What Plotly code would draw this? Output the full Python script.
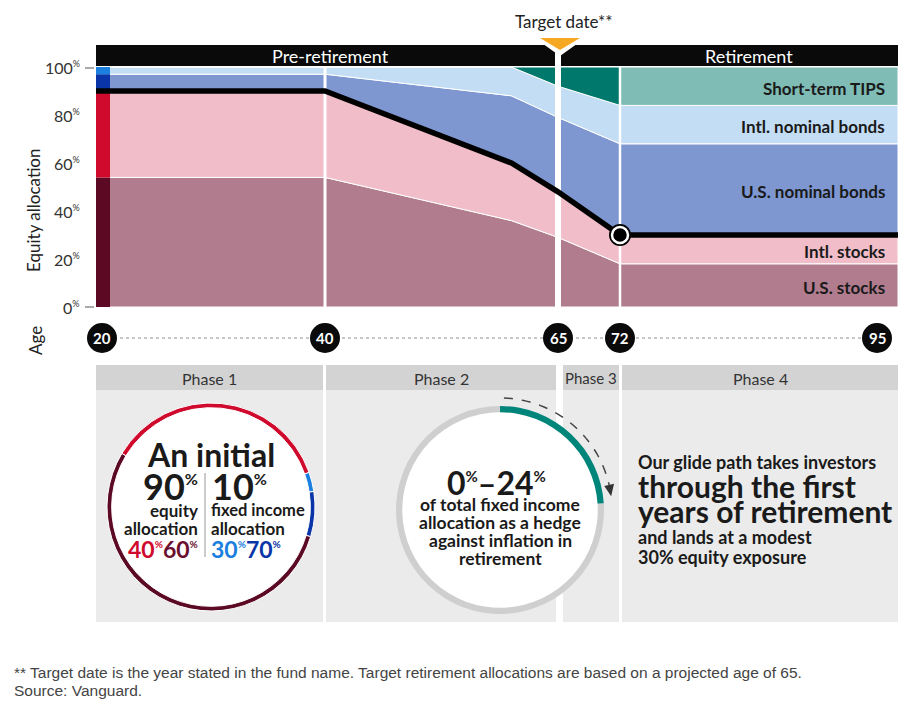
import numpy as np
import plotly.graph_objects as go

# ---------------- data ----------------
AGES = [20, 40, 60, 65, 72, 95]
US_STOCKS = [54, 54, 36, 29, 18, 18]
INTL_STOCKS = [36, 36, 24, 19, 12, 12]
US_BONDS = [7, 7, 28, 31, 38, 38]
INTL_BONDS = [3, 3, 12, 13, 16, 16]
TIPS = [0, 0, 0, 8, 16, 16]
LAYER_NAMES = ["U.S. stocks", "Intl. stocks", "U.S. nominal bonds",
               "Intl. nominal bonds", "Short-term TIPS"]
AGE_TICKS = [20, 40, 65, 72, 95]
Y_TICKS = [0, 20, 40, 60, 80, 100]
PHASES = ["Phase 1", "Phase 2", "Phase 3", "Phase 4"]
HEDGE_SHARE = [24, 76]          # max TIPS share of fixed income vs. rest
TARGET_AGE = 65
LANDING_AGE = 72

# ---------------- layout constants ----------------
W, H = 910, 705
FONT = "Lato, 'Noto Sans', sans-serif"
FOOT_FONT = "'Liberation Sans', Arial, sans-serif"
INK = "#1a1a1a"
AGE_PX = [102, 325, 558, 620, 877]      # horizontal spot of each age tick
CHART_L, CHART_R, STRIP_R = 96, 898, 110
CHART_TOP, CHART_BOT = 67, 307
AREA_COLORS = ["#b07c8e", "#f1bdc9", "#7e97d1", "#c3ddf5", "#00786b"]
TIPS_LIGHT = "#7fbcb5"
STRIP_COLORS = ["#5c0a24", "#cf0a2c", "#0a35a8", "#1b7fe0"]
TEAL = "#00857b"


def age_x(a):
    return float(np.interp(a, AGE_TICKS, AGE_PX))


def X(px):
    return px / W


def Y(py):
    return 1 - py / H


def pct(n, size):
    return f"{n}<sup><span style='font-size:{size}px'>%</span></sup>"


shapes, annotations = [], []


def rect(x0, y0, x1, y1, color, layer="below"):
    shapes.append(dict(type="rect", xref="paper", yref="paper",
                       x0=X(x0), x1=X(x1), y0=Y(y1), y1=Y(y0),
                       fillcolor=color, line_width=0, layer=layer))


def circle(cx, cy, r, color, layer="below", line=None):
    shapes.append(dict(type="circle", xref="paper", yref="paper",
                       x0=X(cx - r), x1=X(cx + r), y0=Y(cy + r), y1=Y(cy - r),
                       fillcolor=color, line=line or dict(width=0), layer=layer))


def poly(points, fill=None, line=None, close=True, layer="above"):
    d = "M " + " L ".join(f"{X(x):.5f},{Y(y):.5f}" for x, y in points)
    if close:
        d += " Z"
    s = dict(type="path", xref="paper", yref="paper", path=d, layer=layer,
             line=line or dict(width=0))
    if fill:
        s["fillcolor"] = fill
    shapes.append(s)


def text(x, y, s, size, color=INK, weight=400, xanchor="center",
         family=FONT, angle=0, yref="paper", yshift=0):
    annotations.append(dict(xref="paper", yref=yref, x=X(x),
                            y=Y(y) if yref == "paper" else y,
                            text=s, showarrow=False, xanchor=xanchor,
                            yanchor="middle", textangle=angle, yshift=yshift,
                            font=dict(family=family, size=size, color=color,
                                      weight=weight)))


fig = go.Figure()

layers = [US_STOCKS, INTL_STOCKS, US_BONDS, INTL_BONDS, TIPS]
cum = np.cumsum(np.array(layers, dtype=float), axis=0)
xs = [age_x(a) for a in AGES]
xa = list(xs)
xa[0], xa[-1] = STRIP_R, CHART_R
i72 = AGES.index(LANDING_AGE)

# initial-allocation strip (saturated colours) at the left edge
base = 0.0
for i in range(4):
    v = layers[i][0]
    fig.add_trace(go.Bar(x=[(CHART_L + STRIP_R) / 2], y=[v], base=[base],
                         width=[STRIP_R - CHART_L],
                         marker=dict(color=STRIP_COLORS[i], line_width=0),
                         hoverinfo="skip"))
    base += v

# stacked areas
lower = np.zeros(len(AGES))
for i, name in enumerate(LAYER_NAMES):
    upper = cum[i]
    fig.add_trace(go.Scatter(x=xa + xa[::-1], y=list(upper) + list(lower[::-1]),
                             fill="toself", fillcolor=AREA_COLORS[i], mode="lines",
                             line=dict(color="white", width=1), name=name,
                             hoverinfo="skip"))
    lower = upper
# retirement part of TIPS in lighter teal
xr = xa[i72:]
fig.add_trace(go.Scatter(x=xr + xr[::-1],
                         y=list(cum[4][i72:]) + list(cum[3][i72:][::-1]),
                         fill="toself", fillcolor=TIPS_LIGHT, mode="lines",
                         line=dict(color="white", width=1), hoverinfo="skip"))

# white separators at phase boundaries
for a, w in [(40, 3), (TARGET_AGE, 6), (LANDING_AGE, 2.5)]:
    fig.add_trace(go.Scatter(x=[age_x(a), age_x(a)], y=[0, 100], mode="lines",
                             line=dict(color="white", width=w), hoverinfo="skip"))

# equity glide path
eq = cum[1]
fig.add_trace(go.Scatter(x=[CHART_L] + xs[1:-1] + [CHART_R], y=list(eq), mode="lines",
                         line=dict(color="black", width=5.5), hoverinfo="skip"))
fig.add_trace(go.Scatter(x=[age_x(LANDING_AGE)], y=[eq[i72]], mode="markers",
                         marker=dict(size=22, color="black"), hoverinfo="skip"))
fig.add_trace(go.Scatter(x=[age_x(LANDING_AGE)], y=[eq[i72]], mode="markers",
                         marker=dict(size=16, color="black",
                                     line=dict(color="white", width=2.5)),
                         hoverinfo="skip"))

# right-hand layer labels
for i, name in enumerate(LAYER_NAMES):
    lo = cum[i - 1][-1] if i else 0
    text(887, 0, name, 17, weight=700, xanchor="right", yref="y", yshift=-2)
    annotations[-1]["y"] = (lo + cum[i][-1]) / 2

# header bar and target-date marker
rect(CHART_L, 45, CHART_R, 66, "#0a0a0a", layer="above")
text(330, 56, "Pre-retirement", 18, color="white")
text(749, 56, "Retirement", 18, color="white")
rect(age_x(TARGET_AGE) - 3, 44, age_x(TARGET_AGE) + 3, 68, "white", layer="above")
poly([(532, 36), (588, 36), (560, 56)], fill="white")
poly([(540, 38), (580, 38), (560, 50)], fill="#f7a823")
text(564, 21, "Target date**", 17, color="#222")

# y axis labels
for v in Y_TICKS:
    text(82, 0, pct(v, 9), 16, color="#333", xanchor="right", yref="y")
    annotations[-1]["y"] = v
for py in (CHART_TOP + 1, CHART_BOT):
    shapes.append(dict(type="line", xref="paper", yref="paper", x0=X(85), x1=X(94),
                       y0=Y(py), y1=Y(py), line=dict(color="#555", width=1)))
text(33, 210, "Equity allocation", 17, color="#222", angle=-90)
text(36, 341, "Age", 17, color="#222", angle=-90)

# age row
shapes.append(dict(type="line", xref="paper", yref="paper",
                   x0=X(age_x(AGE_TICKS[0])), x1=X(age_x(AGE_TICKS[-1])),
                   y0=Y(338), y1=Y(338), layer="below",
                   line=dict(color="#b5b5b5", width=1.5, dash="dot")))
for a in AGE_TICKS:
    circle(age_x(a), 338, 15, "#0a0a0a")
    text(age_x(a), 338, str(a), 15, color="white", weight=700)

# phase panels
PANELS = [(96, 323), (326, 556), (563, 619), (622, 898)]
for (x0, x1), name in zip(PANELS, PHASES):
    rect(x0, 365, x1, 390, "#d3d3d3")
    rect(x0, 390, x1, 622, "#ebebeb")
    text((x0 + x1) / 2, 378, name, 16 if name != "Phase 3" else 15, color="#333")

# Phase 1 ring (initial allocation)
c1, r1 = (211, 507), 104
circle(c1[0], c1[1], r1 - 3, "white")
fig.add_trace(go.Pie(values=[INTL_STOCKS[0], INTL_BONDS[0], US_BONDS[0], US_STOCKS[0]],
                     marker=dict(colors=[STRIP_COLORS[1], STRIP_COLORS[3],
                                         STRIP_COLORS[2], STRIP_COLORS[0]],
                                 line=dict(color="white", width=1)),
                     hole=0.955, sort=False, direction="clockwise", rotation=-59,
                     textinfo="none", hoverinfo="skip",
                     domain=dict(x=[X(c1[0] - r1), X(c1[0] + r1)],
                                 y=[Y(c1[1] + r1), Y(c1[1] - r1)])))
text(211, 454, "An initial", 32, weight=700)
text(200, 486, pct(INTL_STOCKS[0] + US_STOCKS[0], 16), 36, weight=700, xanchor="right")
text(210, 486, pct(US_BONDS[0] + INTL_BONDS[0], 16), 36, weight=700, xanchor="left")
text(200, 510, "equity", 17, weight=700, xanchor="right")
text(200, 528, "allocation", 17, weight=700, xanchor="right")
text(209, 510, "fixed income", 16.5, weight=700, xanchor="left")
text(209, 528, "allocation", 17, weight=700, xanchor="left")
text(200, 549, f"<span style='color:{STRIP_COLORS[1]}'>{pct(40, 10)}</span>"
               f"<span style='color:#6b0f2e'>{pct(60, 10)}</span>", 23, weight=700,
     xanchor="right")
text(209, 549, f"<span style='color:{STRIP_COLORS[3]}'>{pct(30, 10)}</span>"
               f"<span style='color:{STRIP_COLORS[2]}'>{pct(70, 10)}</span>", 23, weight=700,
     xanchor="left")
shapes.append(dict(type="line", xref="paper", yref="paper", x0=X(205), x1=X(205),
                   y0=Y(473), y1=Y(557), line=dict(color="#999", width=1), layer="above"))

# Phase 2 ring (inflation hedge)
c2, r2 = (500, 510), 104
circle(c2[0], c2[1], r2 - 5, "white")
fig.add_trace(go.Pie(values=HEDGE_SHARE,
                     marker=dict(colors=[TEAL, "#cfcfcf"], line=dict(width=0)),
                     hole=0.94, sort=False, direction="clockwise", rotation=0,
                     textinfo="none", hoverinfo="skip",
                     domain=dict(x=[X(c2[0] - r2), X(c2[0] + r2)],
                                 y=[Y(c2[1] + r2), Y(c2[1] - r2)])))
arc = [(c2[0] + 112 * np.sin(np.radians(t)), c2[1] - 112 * np.cos(np.radians(t)))
       for t in np.linspace(2, 77, 40)]
poly(arc, close=False, line=dict(color="#444", width=1.5, dash="dash"))
tip = (c2[0] + 112 * np.sin(np.radians(83)), c2[1] - 112 * np.cos(np.radians(83)))
b1 = (c2[0] + 107 * np.sin(np.radians(77)), c2[1] - 107 * np.cos(np.radians(77)))
b2 = (c2[0] + 117 * np.sin(np.radians(77)), c2[1] - 117 * np.cos(np.radians(77)))
poly([tip, b1, b2], fill="#333")
text(497, 482, f"{pct(0, 15)}–{pct(24, 15)}", 32, weight=700)
for k, line in enumerate(["of total fixed income", "allocation as a hedge",
                          "against inflation in", "retirement"]):
    text(500, 504 + 18 * k, line, 17.5, weight=700)

# Phase 4 text
text(636, 462, "Our glide path takes investors", 18, weight=700, xanchor="left")
text(636, 486, "through the first", 30, weight=700, xanchor="left")
text(636, 511, "years of retirement", 30, weight=700, xanchor="left")
text(636, 537, "and lands at a modest", 18, weight=700, xanchor="left")
text(636, 557, "30% equity exposure", 18, weight=700, xanchor="left")

# footer
text(12, 672, "** Target date is the year stated in the fund name. Target retirement "
              "allocations are based on a projected age of 65.", 15.5, color="#444",
     xanchor="left", family=FOOT_FONT)
text(12, 690, "Source: Vanguard.", 15.5, color="#444", xanchor="left", family=FOOT_FONT)

fig.update_layout(
    width=W, height=H, margin=dict(l=0, r=0, t=0, b=0, pad=0),
    paper_bgcolor="white", plot_bgcolor="rgba(0,0,0,0)",
    showlegend=False, barmode="overlay",
    xaxis=dict(range=[0, W], domain=[0, 1], visible=False, fixedrange=True),
    yaxis=dict(range=[0, 100], domain=[Y(CHART_BOT), Y(CHART_TOP)],
               visible=False, fixedrange=True),
    shapes=shapes, annotations=annotations,
)

fig.write_html("out.html", config={"displayModeBar": False},
               post_script="document.body.style.margin='0';")
